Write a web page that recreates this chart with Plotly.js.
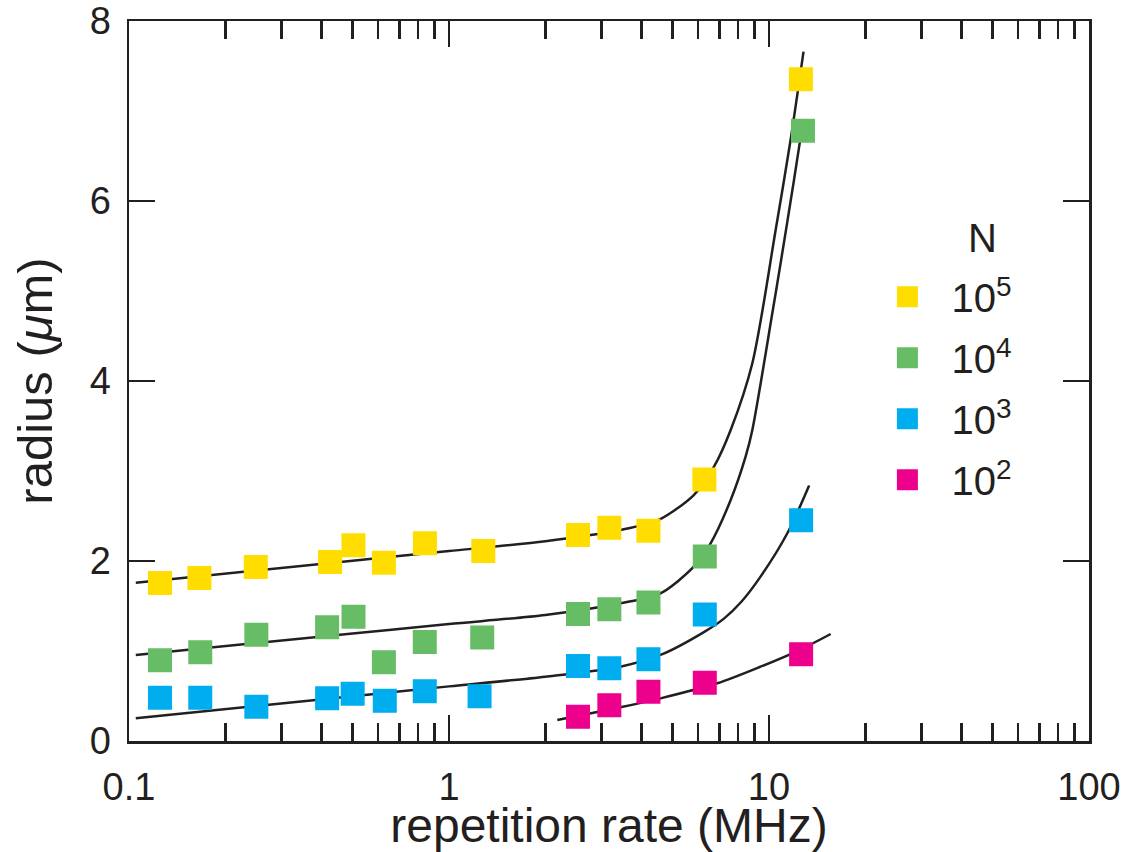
<!DOCTYPE html>
<html><head><meta charset="utf-8">
<script src="https://cdn.plot.ly/plotly-3.0.1.min.js"></script>
<style>html,body{margin:0;padding:0;background:#fff}</style>
</head><body><div id="chart" style="width:1128px;height:852px"></div>
<script>
// ---- data ----
const legendTitle = 'N';
const seriesNames = ['10<sup>5</sup>', '10<sup>4</sup>', '10<sup>3</sup>', '10<sup>2</sup>'];
const seriesColors = ['#FFDD00', '#67BD65', '#00AEEF', '#EC008C'];

const rateN5 = [0.125, 0.166, 0.249, 0.425, 0.503, 0.626, 0.841, 1.28, 2.53, 3.17, 4.2, 6.28, 12.58];
const radiusN5 = [1.756, 1.81, 1.933, 1.99, 2.174, 1.98, 2.196, 2.11, 2.29, 2.37, 2.335, 2.906, 7.353];
const rateN4 = [0.125, 0.167, 0.25, 0.416, 0.503, 0.626, 0.84, 1.27, 2.53, 3.17, 4.2, 6.3, 12.77];
const radiusN4 = [0.897, 0.987, 1.18, 1.265, 1.38, 0.876, 1.10, 1.15, 1.41, 1.465, 1.54, 2.05, 6.78];
const rateN3 = [0.125, 0.167, 0.25, 0.416, 0.5, 0.63, 0.84, 1.246, 2.53, 3.17, 4.2, 6.3, 12.6];
const radiusN3 = [0.481, 0.481, 0.381, 0.474, 0.524, 0.447, 0.553, 0.497, 0.833, 0.809, 0.909, 1.405, 2.453];
const rateN2 = [2.53, 3.17, 4.2, 6.3, 12.6];
const radiusN2 = [0.269, 0.398, 0.547, 0.647, 0.965];

// fit curves
const fitRateN5 = [0.105, 0.5, 1, 2.0, 3.43, 4.52, 5.82, 6.73, 7.59, 8.87, 10.49, 11.68, 12.82];
const fitRadiusN5 = [1.759, 2.003, 2.11, 2.22, 2.344, 2.456, 2.733, 3.048, 3.456, 4.197, 5.678, 6.678, 7.659];
const fitRateN4 = [0.105, 0.5, 1, 2.0, 3.43, 4.58, 5.82, 6.57, 7.59, 8.45, 8.87, 10.24, 10.87, 11.97, 12.61, 12.75];
const fitRadiusN4 = [0.956, 1.194, 1.30, 1.40, 1.53, 1.641, 1.937, 2.197, 2.678, 3.159, 3.456, 4.752, 5.308, 6.233, 6.752, 6.85];
const fitRateN3 = [0.105, 0.5, 1, 2.0, 3.43, 4.58, 6.26, 7.23, 8.21, 9.41, 11.41, 13.35];
const fitRadiusN3 = [0.252, 0.498, 0.607, 0.715, 0.826, 0.956, 1.21, 1.36, 1.55, 1.826, 2.308, 2.84];
const fitRateN2 = [2.18, 3.43, 4.58, 6.89, 9.41, 12.45, 15.59];
const fitRadiusN2 = [0.233, 0.374, 0.474, 0.641, 0.826, 1.011, 1.189];

const xTickVals = [0.1, 1, 10, 100];
const xTickText = ['0.1', '1', '10', '100'];
const xMinorVals = [0.2,0.3,0.4,0.5,0.6,0.7,0.8,0.9,2,3,4,5,6,7,8,9,20,30,40,50,60,70,80,90];
const yTickVals = [0, 2, 4, 6, 8];
const yTickText = ['0', '2', '4', '6', '8'];

// ---- traces ----
const ink = '#231f20';
const fits = [[fitRateN5, fitRadiusN5], [fitRateN4, fitRadiusN4], [fitRateN3, fitRadiusN3], [fitRateN2, fitRadiusN2]];
const pts = [[rateN5, radiusN5], [rateN4, radiusN4], [rateN3, radiusN3], [rateN2, radiusN2]];
const traces = [];
fits.forEach(f => traces.push({
  x: f[0], y: f[1], type: 'scatter', mode: 'lines',
  line: {color: ink, width: 2.5, shape: 'spline', smoothing: 0.8},
  showlegend: false, hoverinfo: 'skip'
}));
pts.forEach((p, i) => traces.push({
  x: p[0], y: p[1], type: 'scatter', mode: 'markers', name: seriesNames[i],
  legendgroup: 'g' + i,
  marker: {symbol: 'square', size: 19, color: seriesColors[i], line: {color: seriesColors[i], width: 5}}
}));

const fam = '"Liberation Sans", Arial, Helvetica, sans-serif';
const layout = {
  width: 1128, height: 852,
  margin: {l: 129, r: 39, t: 21, b: 111, pad: 0},
  paper_bgcolor: '#fff', plot_bgcolor: '#fff',
  font: {family: fam, color: ink},
  hovermode: false,
  xaxis: {
    type: 'log', range: [-1, 2], automargin: false,
    showline: true, linewidth: 2.5, linecolor: ink, mirror: 'allticks',
    ticks: 'inside', ticklen: 26, tickwidth: 2.5, tickcolor: ink,
    tickmode: 'array', tickvals: xTickVals, ticktext: xTickText,
    tickfont: {size: 38, family: fam, color: ink},
    ticklabelstandoff: 11,
    showgrid: false, zeroline: false,
    minor: {ticks: 'inside', ticklen: 18, tickwidth: 2.5, tickcolor: ink, tickmode: 'array', tickvals: xMinorVals, showgrid: false},
    title: {text: 'repetition rate (MHz)', font: {size: 48, family: fam, color: ink}, standoff: 2}
  },
  yaxis: {
    range: [0, 8], automargin: false,
    showline: true, linewidth: 2.5, linecolor: ink, mirror: 'allticks',
    ticks: 'inside', ticklen: 26, tickwidth: 2.5, tickcolor: ink,
    tickmode: 'array', tickvals: yTickVals, ticktext: yTickText,
    tickfont: {size: 38, family: fam, color: ink},
    ticklabelstandoff: 8,
    showgrid: false, zeroline: false,
    title: {text: 'radius (<i>μ</i>m)', font: {size: 49, family: fam, color: ink}, standoff: 22}
  },
  legend: {
    x: 0.765, xanchor: 'left', y: 0.662, yanchor: 'top',
    font: {size: 40, family: fam, color: ink},
    itemwidth: 78, traceorder: 'grouped', tracegroupgap: 6,
    bgcolor: 'rgba(0,0,0,0)', borderwidth: 0
  },
  annotations: [{
    text: legendTitle, xref: 'paper', yref: 'paper',
    x: (982 - 129) / 960, y: 1 - (238 - 21) / 720, xanchor: 'center', yanchor: 'middle',
    showarrow: false, font: {size: 40, family: fam, color: ink}
  }]
};
Plotly.newPlot('chart', traces, layout, {staticPlot: true, displayModeBar: false});
</script></body></html>
